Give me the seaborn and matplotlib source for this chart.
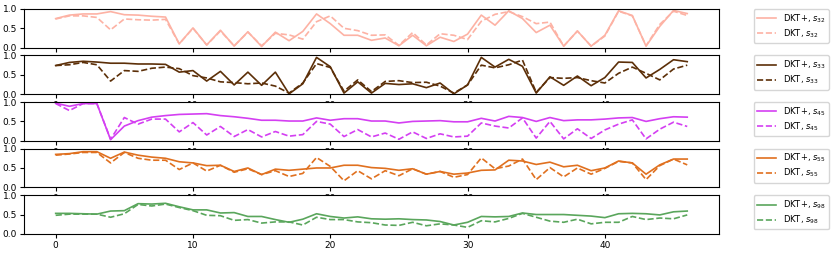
import matplotlib
matplotlib.use("Agg")
import matplotlib.pyplot as plt
import seaborn as sns
import numpy as np

# question index along the sequence
steps = np.arange(47)

s32_plus = [0.75, 0.84, 0.87, 0.87, 0.93, 0.85, 0.84, 0.81, 0.79, 0.10, 0.51, 0.07,
            0.45, 0.04, 0.41, 0.03, 0.40, 0.18, 0.42, 0.87, 0.62, 0.32, 0.32, 0.19,
            0.25, 0.05, 0.32, 0.05, 0.27, 0.16, 0.35, 0.84, 0.58, 0.95, 0.75, 0.39,
            0.58, 0.04, 0.43, 0.04, 0.32, 0.95, 0.83, 0.04, 0.55, 0.96, 0.88]
s32_dkt = [0.74, 0.82, 0.82, 0.78, 0.46, 0.74, 0.72, 0.71, 0.73, 0.10, 0.50, 0.07,
           0.43, 0.05, 0.40, 0.05, 0.37, 0.33, 0.22, 0.67, 0.82, 0.50, 0.44, 0.32,
           0.33, 0.06, 0.39, 0.07, 0.36, 0.32, 0.21, 0.68, 0.86, 0.93, 0.80, 0.62,
           0.66, 0.04, 0.43, 0.04, 0.30, 0.94, 0.82, 0.05, 0.60, 0.94, 0.83]

s33_plus = [0.74, 0.82, 0.85, 0.83, 0.80, 0.80, 0.78, 0.78, 0.77, 0.57, 0.61, 0.34,
            0.59, 0.24, 0.57, 0.23, 0.57, 0.01, 0.27, 0.95, 0.71, 0.03, 0.32, 0.03,
            0.28, 0.25, 0.27, 0.17, 0.29, 0.01, 0.24, 0.95, 0.70, 0.90, 0.72, 0.03,
            0.45, 0.23, 0.47, 0.22, 0.43, 0.83, 0.82, 0.42, 0.64, 0.89, 0.84]
s33_dkt = [0.74, 0.76, 0.82, 0.76, 0.34, 0.61, 0.59, 0.67, 0.70, 0.66, 0.48, 0.42,
           0.32, 0.30, 0.27, 0.29, 0.21, 0.03, 0.29, 0.79, 0.69, 0.08, 0.37, 0.07,
           0.33, 0.35, 0.30, 0.31, 0.21, 0.03, 0.24, 0.75, 0.68, 0.76, 0.88, 0.05,
           0.43, 0.41, 0.43, 0.35, 0.29, 0.54, 0.70, 0.54, 0.37, 0.65, 0.75]

s45_plus = [0.97, 0.89, 0.96, 0.96, 0.03, 0.38, 0.52, 0.61, 0.65, 0.68, 0.69, 0.70,
            0.65, 0.62, 0.58, 0.53, 0.53, 0.51, 0.51, 0.59, 0.53, 0.57, 0.57, 0.51,
            0.51, 0.46, 0.50, 0.51, 0.52, 0.49, 0.49, 0.58, 0.51, 0.63, 0.60, 0.50,
            0.60, 0.52, 0.54, 0.54, 0.56, 0.59, 0.60, 0.50, 0.57, 0.62, 0.61]
s45_dkt = [0.96, 0.78, 0.96, 0.96, 0.04, 0.60, 0.43, 0.56, 0.56, 0.23, 0.47, 0.15,
           0.37, 0.11, 0.29, 0.10, 0.24, 0.12, 0.16, 0.50, 0.43, 0.11, 0.29, 0.10,
           0.20, 0.04, 0.23, 0.06, 0.18, 0.10, 0.12, 0.46, 0.38, 0.33, 0.59, 0.07,
           0.50, 0.05, 0.31, 0.06, 0.28, 0.43, 0.54, 0.05, 0.30, 0.48, 0.37]

s55_plus = [0.85, 0.87, 0.92, 0.92, 0.75, 0.91, 0.83, 0.78, 0.75, 0.66, 0.63, 0.56,
            0.57, 0.41, 0.50, 0.33, 0.47, 0.44, 0.47, 0.50, 0.50, 0.57, 0.57, 0.51,
            0.49, 0.44, 0.48, 0.34, 0.41, 0.34, 0.37, 0.44, 0.45, 0.70, 0.68, 0.59,
            0.65, 0.53, 0.57, 0.43, 0.50, 0.68, 0.63, 0.34, 0.58, 0.73, 0.73]
s55_dkt = [0.83, 0.86, 0.90, 0.90, 0.63, 0.90, 0.75, 0.70, 0.70, 0.46, 0.63, 0.42,
           0.57, 0.39, 0.48, 0.33, 0.43, 0.28, 0.36, 0.77, 0.54, 0.17, 0.43, 0.22,
           0.43, 0.30, 0.48, 0.34, 0.41, 0.26, 0.33, 0.76, 0.48, 0.55, 0.73, 0.20,
           0.51, 0.27, 0.50, 0.34, 0.49, 0.67, 0.63, 0.20, 0.56, 0.73, 0.58]

s98_plus = [0.53, 0.53, 0.52, 0.51, 0.59, 0.60, 0.78, 0.77, 0.79, 0.70, 0.62, 0.62,
            0.54, 0.55, 0.45, 0.45, 0.37, 0.30, 0.38, 0.52, 0.45, 0.41, 0.44, 0.39,
            0.38, 0.39, 0.37, 0.36, 0.32, 0.23, 0.30, 0.45, 0.44, 0.45, 0.54, 0.50,
            0.50, 0.50, 0.48, 0.46, 0.42, 0.52, 0.53, 0.52, 0.49, 0.57, 0.59]
s98_dkt = [0.48, 0.51, 0.51, 0.51, 0.43, 0.52, 0.76, 0.72, 0.77, 0.68, 0.60, 0.48,
           0.47, 0.35, 0.37, 0.28, 0.31, 0.31, 0.23, 0.43, 0.37, 0.37, 0.31, 0.29,
           0.23, 0.22, 0.30, 0.21, 0.26, 0.23, 0.17, 0.34, 0.31, 0.40, 0.53, 0.43,
           0.33, 0.30, 0.38, 0.26, 0.30, 0.30, 0.45, 0.37, 0.41, 0.39, 0.49]

skills = ["32", "33", "45", "55", "98"]
plus_series = [s32_plus, s33_plus, s45_plus, s55_plus, s98_plus]
dkt_series = [s32_dkt, s33_dkt, s45_dkt, s55_dkt, s98_dkt]
colors = ["#fdb2a4", "#5c2f08", "#d43ff2", "#e0701f", "#5aa65c"]

fig, axes = plt.subplots(5, 1, figsize=(8.31, 2.54), dpi=100)
fig.subplots_adjust(left=0.029, right=0.865, top=0.965, bottom=0.079, hspace=0.2)

for ax, sk, plus, dkt, c in zip(axes, skills, plus_series, dkt_series, colors):
    sns.lineplot(x=steps, y=plus, ax=ax, color=c, linewidth=1.2,
                 label=f"DKT+, $s_{{{sk}}}$")
    sns.lineplot(x=steps, y=dkt, ax=ax, color=c, linewidth=1.2, linestyle="--",
                 label=f"DKT, $s_{{{sk}}}$")
    ax.set_ylim(0, 1)
    ax.set_yticks([0.0, 0.5, 1.0])
    ax.set_xticks([0, 10, 20, 30, 40])
    ax.tick_params(labelsize=6.5, length=3, pad=2)
    ax.set_xlabel("")
    ax.set_ylabel("")
    ax.legend(loc="upper left", bbox_to_anchor=(1.05, 1.0), fontsize=6,
              borderaxespad=0.0, labelspacing=0.3, handlelength=2.3)

fig.savefig("out.png", dpi=100)
